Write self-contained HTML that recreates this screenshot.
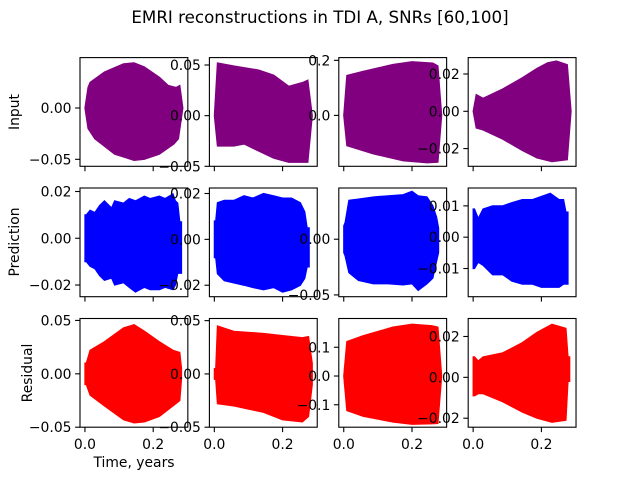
<!DOCTYPE html>
<html><head><meta charset="utf-8"><style>
html,body{margin:0;padding:0;background:#fff;}
svg{display:block;font-family:"DejaVu Sans","Liberation Sans",sans-serif;}
</style></head><body>
<svg id="fig" width="640" height="480" viewBox="0 0 640 480" xmlns="http://www.w3.org/2000/svg">
<rect width="640" height="480" fill="#fff"/>
<text x="320" y="23" font-size="16.7" text-anchor="middle">EMRI reconstructions in TDI A, SNRs [60,100]</text>
<text x="134" y="467" font-size="13.9" text-anchor="middle">Time, years</text>
<text transform="translate(19,112) rotate(-90)" font-size="13.9" text-anchor="middle">Input</text>
<text transform="translate(19,242) rotate(-90)" font-size="13.9" text-anchor="middle">Prediction</text>
<text transform="translate(32,373) rotate(-90)" font-size="13.9" text-anchor="middle">Residual</text>
<g id="panels"></g>
</svg>
<script>
// Shared time axis
const xTicks = [0.0, 0.2];
const xTickLabels = ["0.0", "0.2"];
const xDomain = [-0.0145, 0.3015];

// Input row
const t00 = [0,0.009,0.015,0.057,0.113,0.144,0.174,0.218,0.244,0.267,0.278,0.287];
const up00 = [0,0.02,0.025,0.035,0.043,0.044,0.04,0.03,0.022,0.02,0.022,0];
const t00l = [0,0.009,0.029,0.087,0.144,0.174,0.218,0.261,0.274,0.287];
const lo00 = [0,-0.02,-0.03,-0.045,-0.051,-0.05,-0.045,-0.035,-0.03,0];
const t01 = [0,0.009,0.057,0.13,0.174,0.218,0.261,0.274,0.287];
const up01 = [0,0.052,0.049,0.045,0.04,0.029,0.033,0.035,0];
const t01l = [0,0.009,0.057,0.087,0.13,0.174,0.218,0.274,0.287];
const lo01 = [0,-0.03,-0.03,-0.028,-0.035,-0.042,-0.046,-0.046,0];
const t02 = [0,0.009,0.057,0.144,0.2,0.261,0.276,0.287];
const up02 = [0,0.145,0.16,0.185,0.195,0.19,0.18,0];
const t02l = [0,0.009,0.087,0.174,0.244,0.276,0.287];
const lo02 = [0,-0.11,-0.14,-0.165,-0.172,-0.17,0];
const t03 = [0,0.009,0.029,0.087,0.144,0.187,0.218,0.244,0.276,0.287];
const up03 = [0,0.009,0.007,0.012,0.018,0.023,0.026,0.027,0.025,0];
const t03l = [0,0.009,0.029,0.087,0.144,0.187,0.231,0.276,0.287];
const lo03 = [0,-0.009,-0.01,-0.015,-0.021,-0.025,-0.027,-0.026,0];

// Prediction row
const t10 = [0,0.004,0.015,0.029,0.043,0.057,0.078,0.087,0.113,0.13,0.148,0.174,0.191,0.218,0.235,0.258,0.265,0.272,0.278,0.283];
const up10 = [0.01,0.01,0.012,0.011,0.014,0.016,0.013,0.016,0.015,0.017,0.016,0.018,0.017,0.018,0.017,0.019,0.016,0.015,0.007,0.007];
const lo10 = [-0.01,-0.01,-0.012,-0.013,-0.016,-0.018,-0.017,-0.02,-0.019,-0.021,-0.023,-0.021,-0.022,-0.022,-0.021,-0.022,-0.02,-0.015,-0.015,-0.015];
const t11 = [0,0.004,0.009,0.029,0.057,0.087,0.113,0.144,0.174,0.2,0.226,0.252,0.265,0.272,0.278];
const up11 = [0.008,0.008,0.016,0.017,0.017,0.019,0.018,0.02,0.019,0.018,0.018,0.016,0.012,0.005,0.005];
const lo11 = [-0.008,-0.008,-0.015,-0.018,-0.019,-0.02,-0.021,-0.022,-0.021,-0.023,-0.022,-0.02,-0.017,-0.012,-0.012];
const t12 = [0,0.004,0.015,0.043,0.087,0.13,0.174,0.2,0.218,0.244,0.261,0.272,0.278];
const up12 = [0.012,0.015,0.035,0.036,0.038,0.039,0.04,0.043,0.039,0.038,0.03,0.02,0.01];
const lo12 = [-0.012,-0.015,-0.03,-0.037,-0.04,-0.04,-0.041,-0.04,-0.046,-0.04,-0.035,-0.02,-0.012];
const t13 = [0,0.004,0.015,0.029,0.057,0.087,0.113,0.144,0.174,0.2,0.226,0.252,0.265,0.272,0.278];
const up13 = [0.009,0.009,0.006,0.009,0.01,0.01,0.011,0.012,0.012,0.013,0.014,0.012,0.012,0.008,0.008];
const lo13 = [-0.01,-0.01,-0.008,-0.009,-0.012,-0.012,-0.014,-0.015,-0.015,-0.016,-0.016,-0.016,-0.015,-0.015,-0.015];

// Residual row
const t20 = [0,0.004,0.015,0.057,0.113,0.144,0.174,0.218,0.258,0.278,0.283];
const up20 = [0.01,0.01,0.022,0.03,0.043,0.046,0.04,0.03,0.022,0.02,0.005];
const lo20 = [-0.01,-0.01,-0.02,-0.03,-0.043,-0.046,-0.045,-0.04,-0.03,-0.025,-0.005];
const t21 = [0,0.004,0.009,0.057,0.144,0.2,0.258,0.276,0.287];
const up21 = [0.005,0.005,0.045,0.04,0.038,0.036,0.034,0.035,0.01];
const lo21 = [-0.005,-0.005,-0.028,-0.03,-0.036,-0.043,-0.045,-0.04,-0.01];
const t22 = [0,0.009,0.057,0.144,0.2,0.258,0.276,0.287];
const up22 = [0,0.12,0.14,0.17,0.18,0.175,0.17,0];
const lo22 = [0,-0.12,-0.14,-0.16,-0.168,-0.166,-0.165,0];
const t23 = [0,0.004,0.015,0.029,0.087,0.144,0.187,0.231,0.272,0.278,0.283];
const up23 = [0.01,0.01,0.008,0.01,0.012,0.017,0.022,0.026,0.024,0.01,0.01];
const lo23 = [-0.009,-0.009,-0.008,-0.008,-0.012,-0.017,-0.02,-0.022,-0.021,-0.002,-0.002];

const panels = [
 {r:0,c:0,col:"#800080",tu:t00,up:up00,tl:t00l,lo:lo00,ylim:[-0.0568,0.0491],yt:[0,-0.05],yl:["0.00","\u22120.05"]},
 {r:0,c:1,col:"#800080",tu:t01,up:up01,tl:t01l,lo:lo01,ylim:[-0.05,0.0573],yt:[0.05,0,-0.05],yl:["0.05","0.00","\u22120.05"]},
 {r:0,c:2,col:"#800080",tu:t02,up:up02,tl:t02l,lo:lo02,ylim:[-0.185,0.21],yt:[0.2,0],yl:["0.2","0.0"]},
 {r:0,c:3,col:"#800080",tu:t03,up:up03,tl:t03l,lo:lo03,ylim:[-0.0295,0.0288],yt:[0.02,0,-0.02],yl:["0.02","0.00","\u22120.02"]},
 {r:1,c:0,col:"#0000ff",tu:t10,up:up10,tl:t10,lo:lo10,ylim:[-0.025,0.0215],yt:[0.02,0,-0.02],yl:["0.02","0.00","\u22120.02"]},
 {r:1,c:1,col:"#0000ff",tu:t11,up:up11,tl:t11,lo:lo11,ylim:[-0.025,0.0224],yt:[0.02,0,-0.02],yl:["0.02","0.00","\u22120.02"]},
 {r:1,c:2,col:"#0000ff",tu:t12,up:up12,tl:t12,lo:lo12,ylim:[-0.0516,0.046],yt:[0,-0.05],yl:["0.00","\u22120.05"]},
 {r:1,c:3,col:"#0000ff",tu:t13,up:up13,tl:t13,lo:lo13,ylim:[-0.019,0.0157],yt:[0.01,0,-0.01],yl:["0.01","0.00","\u22120.01"]},
 {r:2,c:0,col:"#ff0000",tu:t20,up:up20,tl:t20,lo:lo20,ylim:[-0.05,0.0518],yt:[0.05,0,-0.05],yl:["0.05","0.00","\u22120.05"]},
 {r:2,c:1,col:"#ff0000",tu:t21,up:up21,tl:t21,lo:lo21,ylim:[-0.05,0.052],yt:[0.05,0,-0.05],yl:["0.05","0.00","\u22120.05"]},
 {r:2,c:2,col:"#ff0000",tu:t22,up:up22,tl:t22,lo:lo22,ylim:[-0.178,0.2],yt:[0.1,0,-0.1],yl:["0.1","0.0","\u22120.1"]},
 {r:2,c:3,col:"#ff0000",tu:t23,up:up23,tl:t23,lo:lo23,ylim:[-0.0244,0.0288],yt:[0.02,0,-0.02],yl:["0.02","0.00","\u22120.02"]}
];
const rowNames=["input","prediction","residual"];
const NS="http://www.w3.org/2000/svg";
const root=document.getElementById("panels");
const AW=107.83, AH=108.7, colX=[80,209.4,338.8,468.2], rowY=[57.6,188.0,318.5];
function mk(tag,attrs,parent){const e=document.createElementNS(NS,tag);for(const k in attrs)e.setAttribute(k,attrs[k]);parent.appendChild(e);return e;}
panels.forEach(p=>{
  const x0=colX[p.c], y0=rowY[p.r];
  const sx=v=>x0+(v-xDomain[0])/(xDomain[1]-xDomain[0])*AW;
  const sy=v=>y0+AH-(v-p.ylim[0])/(p.ylim[1]-p.ylim[0])*AH;
  const g=mk("g",{},root);
  
  
  const pts=[];
  p.tu.forEach((t,i)=>pts.push(sx(t).toFixed(2)+","+sy(p.up[i]).toFixed(2)));
  for(let i=p.tl.length-1;i>=0;i--)pts.push(sx(p.tl[i]).toFixed(2)+","+sy(p.lo[i]).toFixed(2));
  const poly=mk("polygon",{points:pts.join(" "),fill:p.col,stroke:p.col,"stroke-width":"1.2","stroke-linejoin":"miter"},g);
  
  
  const fr=mk("rect",{x:x0,y:y0,width:AW,height:AH,fill:"none",stroke:"#000","stroke-width":"1.1"},g);
  
  
  xTicks.forEach((t,i)=>{
    const X=sx(t);
    const tk=mk("line",{x1:X,x2:X,y1:y0+AH,y2:y0+AH+4.9,stroke:"#000","stroke-width":"1.1"},g);
    
    
    if(p.r===2){
      const tx=mk("text",{x:X,y:y0+AH+22,"font-size":"13.9","text-anchor":"middle"},g);
      tx.textContent=xTickLabels[i];
      
      
    }
  });
  p.yt.forEach((v,i)=>{
    const Y=sy(v);
    const tk=mk("line",{x1:x0-4.9,x2:x0,y1:Y,y2:Y,stroke:"#000","stroke-width":"1.1"},g);
    
    
    const tx=mk("text",{x:x0-8.5,y:Y+5,"font-size":"13.9","text-anchor":"end"},g);
    tx.textContent=p.yl[i];
    
    
  });
});
</script>
</body></html>
